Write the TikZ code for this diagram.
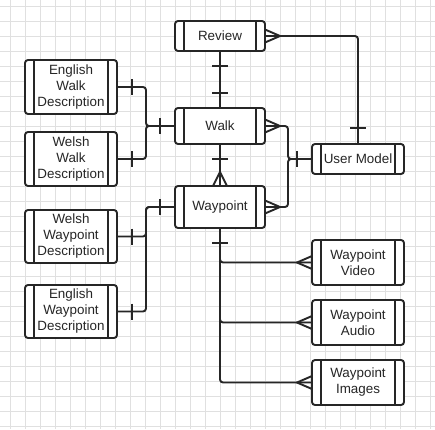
\documentclass[tikz,border=0pt]{standalone}
\usepackage{fontspec}
\setmainfont{Liberation Sans}
\usetikzlibrary{calc}
\definecolor{ink}{HTML}{262626}
\definecolor{gridc}{HTML}{E0E0E0}
\begin{document}
\begin{tikzpicture}[x=1pt,y=-1pt,
  ent/.style={draw=ink, fill=white, line width=1.9pt, rounded corners=3pt,
    inner sep=0pt, outer sep=0pt, align=center,
    font=\fontsize{13.4}{16}\selectfont, text=ink},
  conn/.style={draw=ink, line width=1.9pt, rounded corners=3pt},
  barline/.style={draw=ink, line width=1.9pt},
  gridline/.style={draw=gridc, line width=0.8pt}
]
\useasboundingbox (0,0) rectangle (435,429);
\fill[white] (0,0) rectangle (435,429);
% grid
\foreach \i in {0,...,28} {\draw[gridline] (10.7+15*\i,0) -- (10.7+15*\i,429);}
\foreach \j in {0,...,28} {\draw[gridline] (0,6.7+15*\j) -- (435,6.7+15*\j);}

% entities
\node[ent, minimum width=90pt, minimum height=30pt] (review) at (220,36) {Review};
\node[ent, minimum width=90pt, minimum height=36pt] (walk) at (220,126) {Walk};
\node[ent, minimum width=90pt, minimum height=42pt] (waypoint) at (220,207) {Waypoint};
\node[ent, minimum width=92pt, minimum height=54pt] (ewd) at (71,87) {English\\Walk\\Description};
\node[ent, minimum width=92pt, minimum height=54pt] (wwd) at (71,159) {Welsh\\Walk\\Description};
\node[ent, minimum width=92pt, minimum height=53pt] (wwpd) at (71,236.5) {Welsh\\Waypoint\\Description};
\node[ent, minimum width=92pt, minimum height=53pt] (ewpd) at (71,311.5) {English\\Waypoint\\Description};
\node[ent, minimum width=92pt, minimum height=30pt] (user) at (358,159) {User Model};
\node[ent, minimum width=92pt, minimum height=45pt] (video) at (358,262.5) {Waypoint\\Video};
\node[ent, minimum width=92pt, minimum height=45pt] (audio) at (358,322.5) {Waypoint\\Audio};
\node[ent, minimum width=92pt, minimum height=45pt] (images) at (358,382.5) {Waypoint\\Images};

% inner vertical lines of entities
\foreach \n in {review,walk,waypoint,ewd,wwd,wwpd,ewpd,user,video,audio,images} {
  \draw[barline] ($(\n.north west)+(9,0)$) -- ($(\n.south west)+(9,0)$);
  \draw[barline] ($(\n.north east)+(-9,0)$) -- ($(\n.south east)+(-9,0)$);
}

% connectors
\draw[conn] (review.south) -- (walk.north);
\draw[conn] (review.east) -| (user.north);
\draw[conn] (walk.south) -- (waypoint.north);
\draw[conn] (ewd.east) -- ++(29,0) |- (walk.west);
\draw[conn] (wwd.east) -- ++(29,0) |- (walk.west);
\draw[conn] (wwpd.east) -- ++(29,0) |- (waypoint.west);
\draw[conn] (ewpd.east) -- ++(29,0) |- (waypoint.west);
\draw[conn] (walk.east) -- ++(23,0) |- (user.west);
\draw[conn] (waypoint.east) -- ++(23,0) |- (user.west);
\draw[conn] (waypoint.south) |- (video.west);
\draw[conn] (waypoint.south) |- (audio.west);
\draw[conn] (waypoint.south) |- (images.west);

% "one" bars
\draw[barline] ($(review.south)+(-8,15)$) -- ++(16,0);
\draw[barline] ($(walk.north)+(-8,-15)$) -- ++(16,0);
\draw[barline] ($(walk.south)+(-8,15)$) -- ++(16,0);
\draw[barline] ($(user.north)+(-8,-16)$) -- ++(16,0);
\draw[barline] ($(walk.west)+(-15,-8)$) -- ++(0,16);
\draw[barline] ($(waypoint.west)+(-15,-8)$) -- ++(0,16);
\draw[barline] ($(user.west)+(-15,-8)$) -- ++(0,16);
\draw[barline] ($(waypoint.south)+(-8,15)$) -- ++(16,0);
\foreach \n in {ewd,wwd,wwpd,ewpd} {
  \draw[barline] ($(\n.east)+(15,-8)$) -- ++(0,16);
}

% "many" crow's feet
\foreach \n in {review,walk,waypoint} {
  \draw[barline] ($(\n.east)+(0,-6.5)$) -- ($(\n.east)+(15,0)$) -- ($(\n.east)+(0,6.5)$);
}
\draw[barline] ($(waypoint.north)+(-7,0)$) -- ($(waypoint.north)+(0,-14)$) -- ($(waypoint.north)+(7,0)$);
\foreach \n in {video,audio,images} {
  \draw[barline] ($(\n.west)+(0,-6.5)$) -- ($(\n.west)+(-15,0)$) -- ($(\n.west)+(0,6.5)$);
}
\end{tikzpicture}
\end{document}
